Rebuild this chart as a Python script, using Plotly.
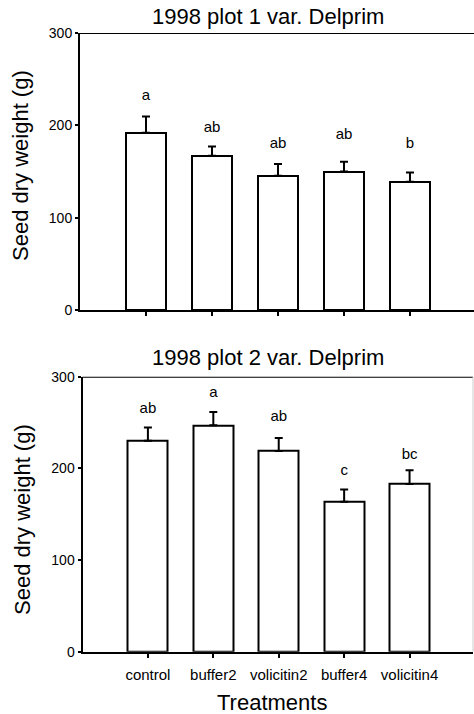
import plotly.graph_objects as go

categories = ["control", "buffer2", "volicitin2", "buffer4", "volicitin4"]
plot1_means = [192, 167, 145.5, 150, 139]
plot1_err = [17.5, 10, 12.5, 10.5, 10]
plot1_letters = ["a", "ab", "ab", "ab", "b"]
plot1_letter_y = [231, 197, 180, 189, 180]

plot2_means = [230, 247, 219, 163.5, 183]
plot2_err = [14.5, 14.5, 14, 13.5, 15]
plot2_letters = ["ab", "a", "ab", "c", "bc"]
plot2_letter_y = [264, 282, 256, 197, 214.5]

titles = ["1998 plot 1 var. Delprim", "1998 plot 2 var. Delprim"]
yticks = [0, 100, 200, 300]

FONT = "Arial, Liberation Sans, sans-serif"
W, H = 474, 714
xpos = list(range(len(categories)))

fig = go.Figure()

def add_panel(means, err, letters, letter_y, xa, ya):
    fig.add_trace(go.Bar(
        x=xpos, y=means, width=0.61,
        marker=dict(color="white", line=dict(color="black", width=2)),
        error_y=dict(type="data", array=err, arrayminus=[0]*len(err), symmetric=False,
                     color="black", thickness=2, width=4),
        xaxis=xa, yaxis=ya, showlegend=False, hoverinfo="skip"))
    fig.add_trace(go.Scatter(
        x=xpos, y=letter_y, text=letters, mode="text",
        textfont=dict(family=FONT, size=15, color="black"),
        xaxis=xa, yaxis=ya, showlegend=False, hoverinfo="skip"))

add_panel(plot1_means, plot1_err, plot1_letters, plot1_letter_y, "x", "y")
add_panel(plot2_means, plot2_err, plot2_letters, plot2_letter_y, "x2", "y2")

def px_y(p):
    return 1 - p / H

common_x = dict(range=[-1, 4.97], tickvals=xpos, ticks="outside", ticklen=4, tickwidth=2,
                tickcolor="black", showline=True, linecolor="black", linewidth=2,
                showgrid=False, zeroline=False, fixedrange=True, automargin=False)
common_y = dict(range=[0, 300], tickvals=yticks, ticks="outside", ticklen=3, tickwidth=2,
                tickcolor="black", showline=True, linecolor="black", linewidth=2,
                showgrid=False, zeroline=False, tickfont=dict(family=FONT, size=14, color="black"),
                fixedrange=True, automargin=False)

fig.update_layout(
    width=W, height=H, margin=dict(l=0, r=0, t=0, b=0, autoexpand=False),
    plot_bgcolor="white", paper_bgcolor="white",
    font=dict(family=FONT, color="black"),
    bargap=0,
    xaxis=dict(common_x, domain=[80 / W, 1.0], showticklabels=False, anchor="y"),
    yaxis=dict(common_y, domain=[px_y(310), px_y(33)], anchor="x"),
    xaxis2=dict(common_x, domain=[82.5 / W, 473 / W], ticktext=categories, anchor="y2",
                tickfont=dict(family=FONT, size=15, color="black"), ticklabelstandoff=4),
    yaxis2=dict(common_y, domain=[px_y(651.7), px_y(376.7)], anchor="x2"),
)

# top border lines
fig.add_shape(type="line", xref="x domain", yref="y", x0=0, x1=1, y0=300, y1=300,
              line=dict(color="black", width=2))
fig.add_shape(type="line", xref="x2 domain", yref="y2", x0=0, x1=1, y0=300, y1=300,
              line=dict(color="black", width=2))
fig.add_shape(type="line", xref="x2 domain", yref="y2", x0=1, x1=1, y0=0, y1=300,
              line=dict(color="#cccccc", width=1))

def ann(text, xp, yp, size, angle=0):
    return dict(text=text, x=xp / W, y=px_y(yp), xref="paper", yref="paper",
                xanchor="center", yanchor="middle", showarrow=False, textangle=angle,
                font=dict(family=FONT, size=size, color="black"))

fig.update_layout(annotations=[
    ann(titles[0], 268, 16, 22),
    ann(titles[1], 268, 357, 22),
    ann("Seed dry weight (g)", 20, 166, 22, -90),
    ann("Seed dry weight (g)", 22, 520, 22, -90),
    ann("Treatments", 272, 702, 22),
])

fig.write_html("out.html")
